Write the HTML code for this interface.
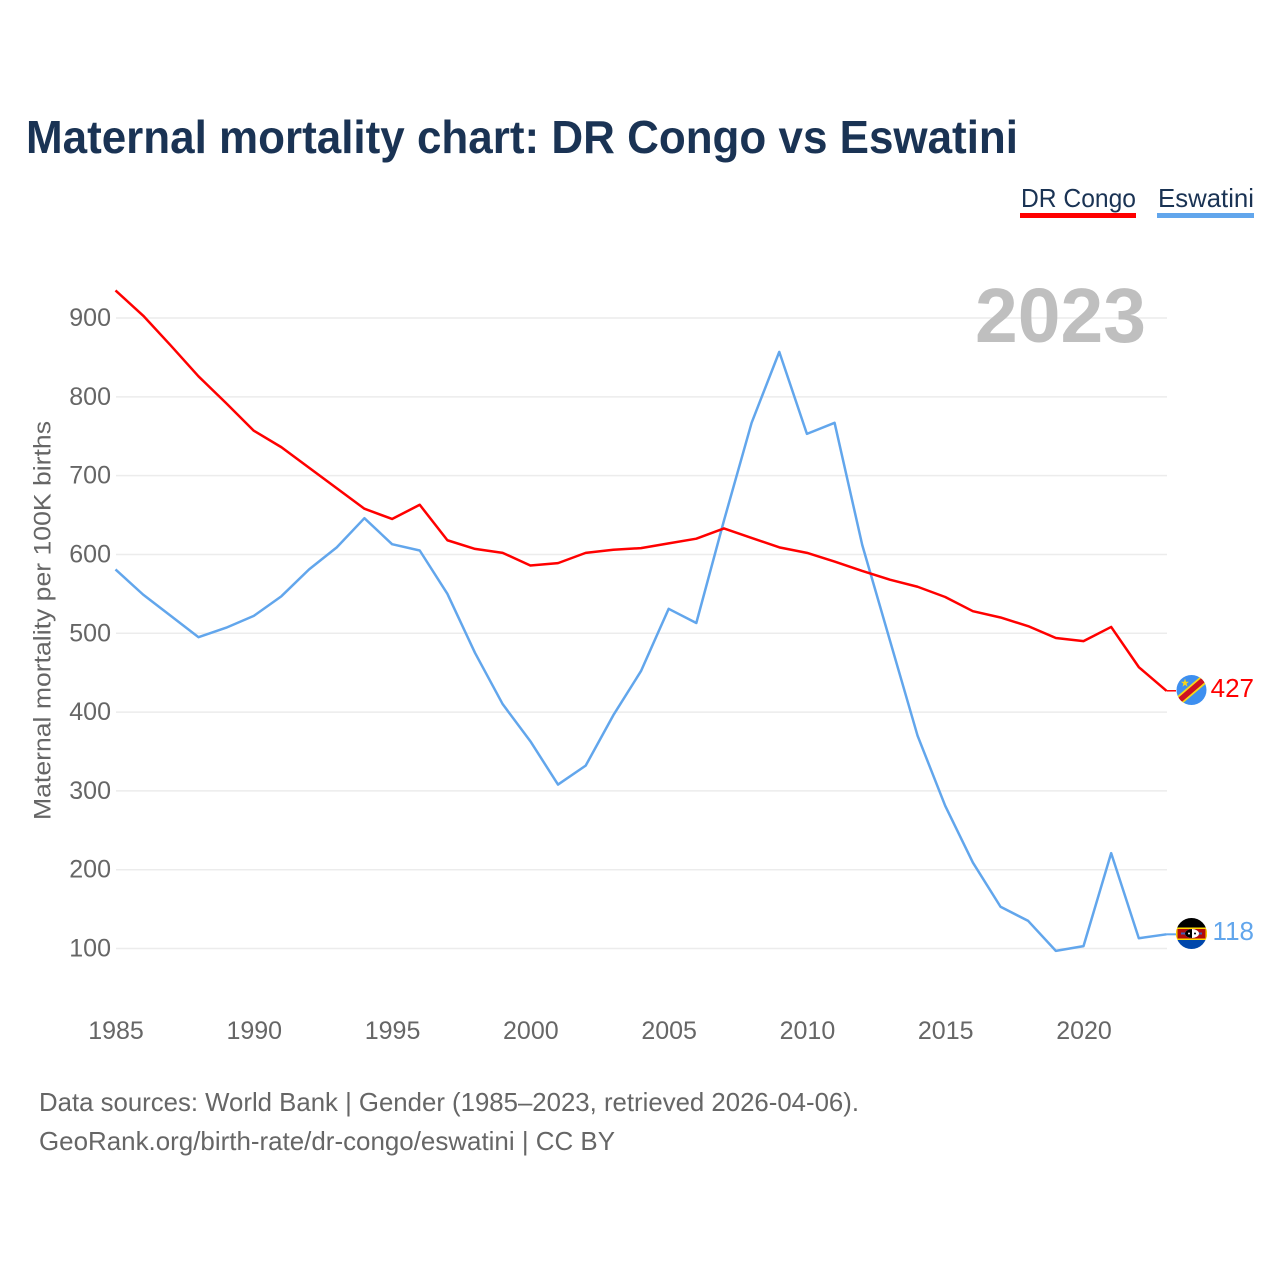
<!DOCTYPE html>
<html lang="en">
<head>
<meta charset="utf-8">
<title>Maternal mortality chart: DR Congo vs Eswatini</title>
<style>
html,body{margin:0;padding:0;background:#fff;width:1280px;height:1280px;overflow:hidden}
svg{display:block}
text{font-family:"Liberation Sans",sans-serif}
</style>
</head>
<body>
<svg id="chart" width="1280" height="1280" viewBox="0 0 1280 1280" xmlns="http://www.w3.org/2000/svg">
<defs>
<clipPath id="clip-cd"><circle cx="1191.500" cy="690" r="15"/></clipPath>
<clipPath id="clip-sz"><circle cx="1191.500" cy="933.500" r="15.500"/></clipPath>
</defs>
<rect width="1280" height="1280" fill="#fff"/>
<text x="26" y="153" font-size="46" font-weight="700" fill="#1a3354" textLength="992" lengthAdjust="spacingAndGlyphs">Maternal mortality chart: DR Congo vs Eswatini</text>

<g>
<g>
<text x="1021" y="207" font-size="26" fill="#1a3354" textLength="115" lengthAdjust="spacingAndGlyphs">DR Congo</text>
<rect x="1020" y="213" width="116" height="5" fill="#ff0000"/>
</g>
<g>
<text x="1158" y="207" font-size="26" fill="#1a3354" textLength="96" lengthAdjust="spacingAndGlyphs">Eswatini</text>
<rect x="1157" y="213" width="97" height="5" fill="#62a6ec"/>
</g>
</g>

<g id="grid"></g>
<g id="y-ticks"></g>
<g id="x-ticks"></g>
<text transform="translate(50.500,820) rotate(-90)" x="0" y="0" font-size="24" fill="#666" textLength="399" lengthAdjust="spacingAndGlyphs">Maternal mortality per 100K births</text>
<text x="975" y="342" font-size="77" font-weight="700" fill="#bfbfbf" textLength="171" lengthAdjust="spacingAndGlyphs">2023</text>

<path id="line-eswatini" fill="none" stroke="#62a6ec" stroke-width="2.500" stroke-linejoin="round"/>
<path id="line-drcongo" fill="none" stroke="#ff0000" stroke-width="2.500" stroke-linejoin="round"/>
<line id="conn-drcongo" stroke="#ff0000" stroke-width="1.500"/>
<line id="conn-eswatini" stroke="#62a6ec" stroke-width="2"/>

<g clip-path="url(#clip-cd)">
<rect x="1176" y="674" width="31" height="32" fill="#3d8ff0"/>
<line x1="1171" y1="707.500" x2="1212" y2="672.500" stroke="#f7d618" stroke-width="9"/>
<line x1="1171" y1="707.500" x2="1212" y2="672.500" stroke="#ce1021" stroke-width="5.500"/>
<polygon points="1185,678.500 1186,681.700 1189,681.700 1186.600,683.600 1187.500,686.700 1185,684.800 1182.500,686.700 1183.400,683.600 1181,681.700 1184,681.700" fill="#f7d618"/>
</g>
<g clip-path="url(#clip-sz)">
<rect x="1176" y="918" width="31" height="9.500" fill="#000"/>
<rect x="1176" y="927.500" width="31" height="1.500" fill="#ffd900"/>
<rect x="1176" y="929" width="31" height="9.500" fill="#b10c0c"/>
<rect x="1176" y="938.500" width="31" height="1.500" fill="#ffd900"/>
<rect x="1176" y="940" width="31" height="10" fill="#0047ab"/>
<rect x="1176" y="929" width="1.500" height="9.500" fill="#ffd900"/>
<rect x="1205.500" y="929" width="1.500" height="9.500" fill="#ffd900"/>
<rect x="1181" y="932.500" width="21" height="2" fill="#3e5eb9"/>
<ellipse cx="1192" cy="933.500" rx="7" ry="4.500" fill="#fff"/>
<path d="M1192,929 A7,4.500 0 0 0 1192,938Z" fill="#000"/>
<circle cx="1189" cy="933.500" r="1" fill="#fff"/>
<circle cx="1195" cy="933.500" r="1" fill="#000"/>
</g>

<text id="value-drcongo" x="1254" y="697" text-anchor="end" font-size="26" fill="#ff0000"></text>
<text id="value-eswatini" x="1254" y="940" text-anchor="end" font-size="26" fill="#62a6ec"></text>

<g>
<text x="39" y="1111" font-size="26" fill="#666" textLength="820" lengthAdjust="spacingAndGlyphs">Data sources: World Bank | Gender (1985–2023, retrieved 2026-04-06).</text>
<text x="39" y="1150" font-size="26" fill="#666" textLength="576" lengthAdjust="spacingAndGlyphs">GeoRank.org/birth-rate/dr-congo/eswatini | CC BY</text>
</g>
</svg>
<script>
const years = [1985,1986,1987,1988,1989,1990,1991,1992,1993,1994,1995,1996,1997,1998,1999,2000,2001,2002,2003,2004,2005,2006,2007,2008,2009,2010,2011,2012,2013,2014,2015,2016,2017,2018,2019,2020,2021,2022,2023];
const drCongo = [935,903,865,826,792,757,736,710,684,658,645,663,618,607,602,586,589,602,606,608,614,620,633,621,609,602,591,579,568,559,546,528,520,509,494,490,508,457,427];
const eswatini = [581,549,522,495,507,522,547,581,609,646,613,605,550,475,410,363,308,332,396,452,531,513,643,767,857,753,767,612,491,370,281,209,153,135,97,103,221,113,118];
const yTickValues = [100,200,300,400,500,600,700,800,900];
const xTickValues = [1985,1990,1995,2000,2005,2010,2015,2020];

const SVG_NS = 'http://www.w3.org/2000/svg';
function xScale(year) { return 115.5 + (year - 1985) * (1083.5 - 115.5) / 35; }
function yScale(value) { return 948.5 - (value - 100) * (948.5 - 318) / 800; }
function linePath(values) {
  return values.map(function (v, i) {
    return (i ? 'L' : 'M') + xScale(years[i]).toFixed(2) + ' ' + yScale(v).toFixed(2);
  }).join('');
}

const gridGroup = document.getElementById('grid');
const yTickGroup = document.getElementById('y-ticks');
const xTickGroup = document.getElementById('x-ticks');

yTickValues.forEach(function (v) {
  const line = document.createElementNS(SVG_NS, 'line');
  
  
  line.setAttribute('x1', 116);
  line.setAttribute('x2', 1167);
  line.setAttribute('y1', yScale(v));
  line.setAttribute('y2', yScale(v));
  line.setAttribute('stroke', '#ececec');
  line.setAttribute('stroke-width', '1.5');
  gridGroup.appendChild(line);

  const label = document.createElementNS(SVG_NS, 'text');
  
  
  label.setAttribute('x', 111);
  label.setAttribute('y', yScale(v) + 8);
  label.setAttribute('text-anchor', 'end');
  label.setAttribute('font-size', '25');
  label.setAttribute('fill', '#666');
  label.textContent = v;
  yTickGroup.appendChild(label);
});

xTickValues.forEach(function (year) {
  const label = document.createElementNS(SVG_NS, 'text');
  
  
  label.setAttribute('x', xScale(year) + 0.5);
  label.setAttribute('y', 1039);
  label.setAttribute('text-anchor', 'middle');
  label.setAttribute('font-size', '25');
  label.setAttribute('fill', '#666');
  label.textContent = year;
  xTickGroup.appendChild(label);
});

document.getElementById('line-drcongo').setAttribute('d', linePath(drCongo));
document.getElementById('line-eswatini').setAttribute('d', linePath(eswatini));

function setConnector(id, value) {
  const c = document.getElementById(id);
  c.setAttribute('x1', xScale(years[years.length - 1]));
  c.setAttribute('x2', 1176);
  c.setAttribute('y1', yScale(value));
  c.setAttribute('y2', yScale(value));
}
setConnector('conn-drcongo', drCongo[drCongo.length - 1]);
setConnector('conn-eswatini', eswatini[eswatini.length - 1]);
document.getElementById('value-drcongo').textContent = drCongo[drCongo.length - 1];
document.getElementById('value-eswatini').textContent = eswatini[eswatini.length - 1];
</script>
</body>
</html>
